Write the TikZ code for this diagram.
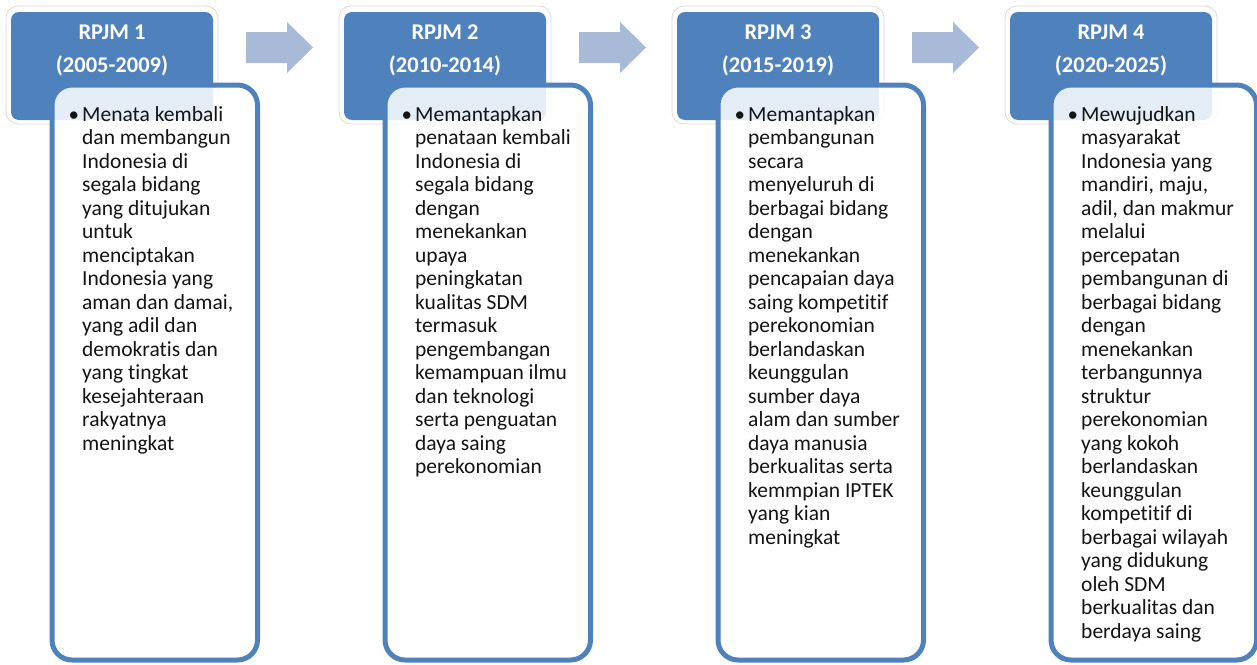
\documentclass[tikz,border=0pt]{standalone}
\usepackage{fontspec}
\setmainfont{Carlito}[Ligatures=NoCommon]
\definecolor{rpjmblue}{HTML}{4F81BD}
\definecolor{arrowblue}{HTML}{A9BAD8}
\definecolor{ringgrey}{HTML}{DADADA}

% one column: header with period, description box below it
\newcommand\rpjmcol[5]{%
  \begin{scope}[xshift=#2]
    \node[hdrring] (r#1) at (6,6) {};
    \node[hdr] (h#1) at (11,12) {};
    \node[hdrtext] (t#1) at (112,39.5) {\parbox[t]{200pt}{\centering #3\\#4}};
    \node[descbox] (b#1) at (52,85) {};
    \node[bulletmark] (d#1) at (68.5,121) {\textbullet};
    \node[bodytext] (x#1) at (82,121) {\parbox[t]{200pt}{\raggedright #5}};
  \end{scope}}

% block arrow between two headers
\newcommand\rpjmarrow[1]{%
  \begin{scope}[xshift=#1]
    \fill[arrowblue] (246,32) -- (287,32) -- (287,22) -- (313,47.5)
      -- (287,73) -- (287,63) -- (246,63) -- cycle;
  \end{scope}}

\begin{document}
\begin{tikzpicture}[x=1pt,y=-1pt,
  hdrring/.style={draw=ringgrey, line width=0.8pt, fill=white, rounded corners=12pt,
    minimum width=212, minimum height=118, anchor=north west, inner sep=0, outer sep=0},
  hdr/.style={fill=rpjmblue, rounded corners=8pt, minimum width=202, minimum height=108,
    anchor=north west, inner sep=0, outer sep=0},
  hdrtext/.style={anchor=base, inner sep=0, text=white,
    font=\fontsize{22.5}{33}\selectfont\bfseries},
  descbox/.style={draw=rpjmblue, line width=5pt, fill=white, fill opacity=0.85,
    rounded corners=20pt, minimum width=205.5, minimum height=575,
    anchor=north west, inner sep=0, outer sep=0},
  bulletmark/.style={anchor=base west, inner sep=0, text=black!92,
    font=\fontsize{21}{23.5}\selectfont},
  bodytext/.style={anchor=base west, inner sep=0, text=black!92,
    font=\fontsize{21.5}{23.5}\selectfont},
]
\useasboundingbox (0,0) rectangle (1257,664);

\rpjmcol{1}{0}{RPJM 1}{(2005-2009)}{Menata kembali\\dan membangun\\Indonesia di\\segala bidang\\yang ditujukan\\untuk\\menciptakan\\Indonesia yang\\aman dan damai,\\yang adil dan\\demokratis dan\\yang tingkat\\kesejahteraan\\rakyatnya\\meningkat}

\rpjmcol{2}{333}{RPJM 2}{(2010-2014)}{Memantapkan\\penataan kembali\\Indonesia di\\segala bidang\\dengan\\menekankan\\upaya\\peningkatan\\kualitas SDM\\termasuk\\pengembangan\\kemampuan ilmu\\dan teknologi\\serta penguatan\\daya saing\\perekonomian}

\rpjmcol{3}{666}{RPJM 3}{(2015-2019)}{Memantapkan\\pembangunan\\secara\\menyeluruh di\\berbagai bidang\\dengan\\menekankan\\pencapaian daya\\saing kompetitif\\perekonomian\\berlandaskan\\keunggulan\\sumber daya\\alam dan sumber\\daya manusia\\berkualitas serta\\kemmpian IPTEK\\yang kian\\meningkat}

\rpjmcol{4}{999}{RPJM 4}{(2020-2025)}{Mewujudkan\\masyarakat\\Indonesia yang\\mandiri, maju,\\adil, dan makmur\\melalui\\percepatan\\pembangunan di\\berbagai bidang\\dengan\\menekankan\\terbangunnya\\struktur\\perekonomian\\yang kokoh\\berlandaskan\\keunggulan\\kompetitif di\\berbagai wilayah\\yang didukung\\oleh SDM\\berkualitas dan\\berdaya saing}

\rpjmarrow{0}
\rpjmarrow{333}
\rpjmarrow{666}
\end{tikzpicture}
\end{document}
